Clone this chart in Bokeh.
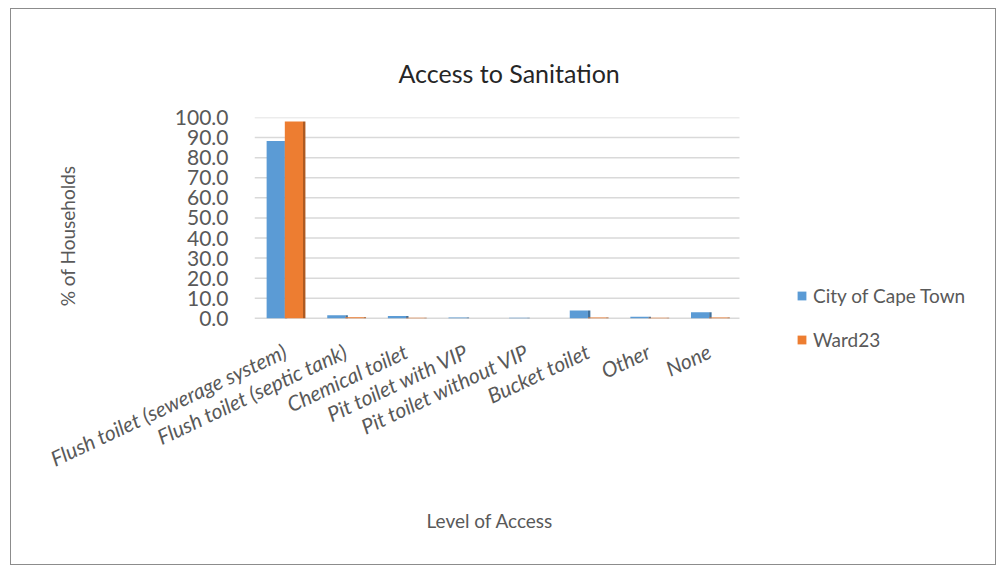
import numpy as np
from bokeh.plotting import figure
from bokeh.models import ColumnDataSource, Legend, LegendItem, Range1d, FixedTicker, Title
from bokeh.embed import file_html
from bokeh.resources import INLINE

categories = ["Flush toilet (sewerage system)", "Flush toilet (septic tank)", "Chemical toilet",
              "Pit toilet with VIP", "Pit toilet without VIP", "Bucket toilet", "Other", "None"]
cape_town = [88.3, 1.6, 1.2, 0.4, 0.3, 3.9, 0.8, 3.0]
ward23 = [98.0, 0.5, 0.3, 0.1, 0.1, 0.4, 0.3, 0.4]
y_ticks = [0, 10, 20, 30, 40, 50, 60, 70, 80, 90, 100]
series_names = ["City of Cape Town", "Ward23"]
series_colors = ["#5B9BD5", "#ED7D31"]
side_colors = ["#41719C", "#AE5A21"]

FONT = "Lato"
GREY = "#595959"

n = len(categories)
idx = np.arange(n)
bw = 0.3
src = ColumnDataSource(dict(x_ct=idx - 0.15, x_ct_side=idx - 0.15 + bw / 2 + 0.02,
                            x_w=idx + 0.15, x_w_side=idx + 0.15 + bw / 2 + 0.02,
                            ct=cape_town, w=ward23))

# frame: bar area 485px wide for the categories, extended right to hold the legend
frame_w, bar_w = 737, 485
x_end = -0.5 + n * frame_w / bar_w
p = figure(x_range=Range1d(-0.5, x_end), y_range=Range1d(-18, 100),
           width=986, height=557, output_backend="svg", toolbar_location=None,
           min_border_left=243, min_border_right=6, min_border_top=108, min_border_bottom=212)
p.styles = {"border": "1px solid #8c8c8c", "margin-left": "10px", "margin-top": "8px"}

p.title.text = "Access to Sanitation"
p.title.align = "left"
p.title.offset = 144
p.title.vertical_align = "top"
p.title.text_font = FONT
p.title.text_font_size = "25px"
p.title.text_font_style = "normal"
p.title.text_color = "#262626"
p.title.standoff = 55

# gridlines limited to the category area
p.segment(x0=[-0.5] * len(y_ticks), x1=[n - 0.5] * len(y_ticks), y0=y_ticks, y1=y_ticks,
          line_color="#d9d9d9", line_width=1.5)

r1 = p.vbar(x="x_ct", top="ct", width=bw, bottom=0, source=src, fill_color=series_colors[0], line_color=None)
p.vbar(x="x_ct_side", top="ct", width=0.04, bottom=0, source=src, fill_color=side_colors[0], line_color=None)
r2 = p.vbar(x="x_w", top="w", width=bw, bottom=0, source=src, fill_color=series_colors[1], line_color=None)
p.vbar(x="x_w_side", top="w", width=0.04, bottom=0, source=src, fill_color=side_colors[1], line_color=None)

p.yaxis.ticker = FixedTicker(ticks=y_ticks)
p.yaxis.major_label_overrides = {t: f"{t:.1f}" for t in y_ticks}
p.yaxis.axis_line_color = None
p.yaxis.major_tick_line_color = None
p.yaxis.minor_tick_line_color = None
p.yaxis.major_label_text_font = FONT
p.yaxis.major_label_text_font_size = "21px"
p.yaxis.major_label_text_color = GREY
p.yaxis.major_label_standoff = 20
p.yaxis.axis_label = "% of Households"
p.yaxis.axis_label_text_font = FONT
p.yaxis.axis_label_text_font_size = "19px"
p.yaxis.axis_label_text_font_style = "normal"
p.yaxis.axis_label_text_color = GREY
p.yaxis.axis_label_standoff = 93

p.xaxis.ticker = FixedTicker(ticks=list(idx))
p.xaxis.major_label_overrides = {int(i): c for i, c in zip(idx, categories)}
p.xaxis.axis_line_color = None
p.xaxis.major_tick_line_color = None
p.xaxis.minor_tick_line_color = None
p.xaxis.major_label_orientation = 0.44
p.xaxis.major_label_text_font = FONT
p.xaxis.major_label_text_font_size = "21px"
p.xaxis.major_label_text_font_style = "italic"
p.xaxis.major_label_text_color = GREY
p.xaxis.major_label_standoff = -11

x_title = Title(text="Level of Access", align="left", offset=172, standoff=45,
                text_font=FONT, text_font_size="19px", text_font_style="normal", text_color=GREY)
p.add_layout(x_title, "below")

p.xgrid.grid_line_color = None
p.ygrid.grid_line_color = None
p.outline_line_color = None

legend = Legend(items=[LegendItem(label=series_names[0], renderers=[r1]),
                       LegendItem(label=series_names[1], renderers=[r2])],
                location=(542, 3), orientation="vertical")
legend.label_text_font = FONT
legend.label_text_font_size = "19px"
legend.label_text_color = GREY
legend.glyph_width = 11
legend.glyph_height = 11
legend.spacing = 21
legend.label_standoff = 6
legend.border_line_color = None
legend.background_fill_alpha = 0
p.add_layout(legend, "center")

open("out.html", "w").write(file_html(p, INLINE))
